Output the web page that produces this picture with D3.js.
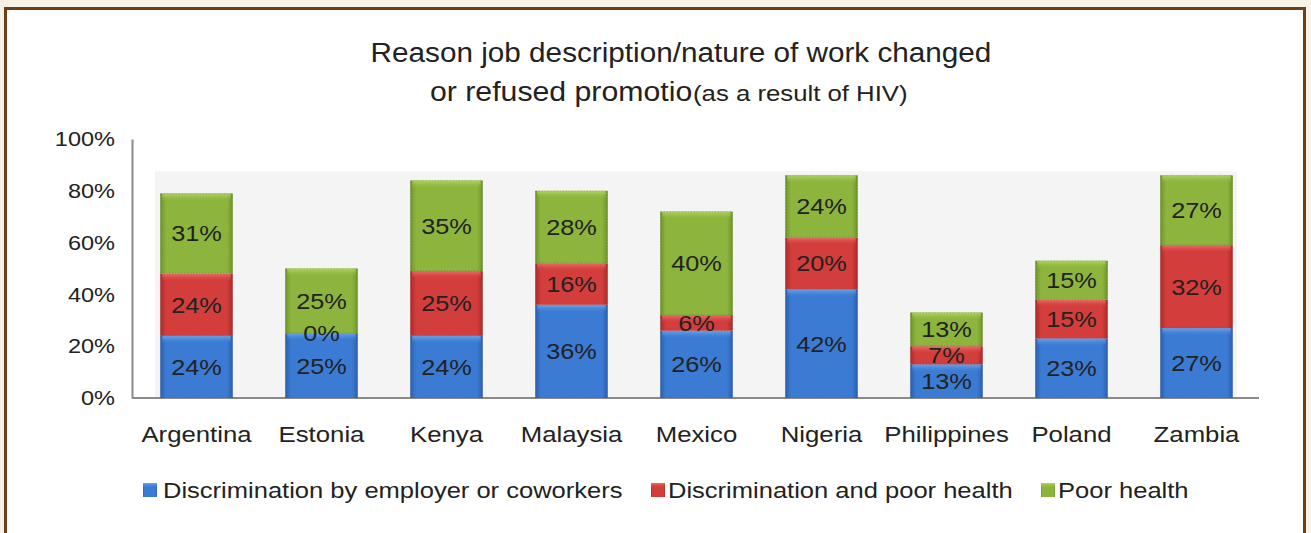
<!DOCTYPE html>
<html><head><meta charset="utf-8">
<script src="https://cdn.jsdelivr.net/npm/d3@7"></script>
<style>
html,body{margin:0;padding:0;background:#f7f2e7;}
svg{display:block;}
text{font-family:"Liberation Sans",Arial,Helvetica,sans-serif;fill:#222;}
</style></head>
<body>
<svg id="c" width="1311" height="533"></svg>
<script>
const categories = ["Argentina","Estonia","Kenya","Malaysia","Mexico","Nigeria","Philippines","Poland","Zambia"];
const seriesNames = ["Discrimination by employer or coworkers","Discrimination and poor health","Poor health"];
const employer = [24,25,24,36,26,42,13,23,27];
const both = [24,0,25,16,6,20,7,15,32];
const poorHealth = [31,25,35,28,40,24,13,15,27];
const yTicks = [0,20,40,60,80,100];
const titleLine1 = "Reason job description/nature of work changed";
const titleLine2a = "or refused promotio";
const titleLine2b = "(as a result of HIV)";

const svg = d3.select("#c");
const W = 1311, H = 533;
const FONT = "'Liberation Sans',Arial,Helvetica,sans-serif";

// horizontally widen text to mimic the reference's wide lettering
function stretch(sel, f) {
  sel.each(function(){
    const L = this.getComputedTextLength();
    d3.select(this).attr("textLength", L*f).attr("lengthAdjust","spacingAndGlyphs");
  });
}

// frame
svg.append("rect").attr("x",0).attr("y",0).attr("width",W).attr("height",H).attr("fill","#f7f2e7");
svg.append("rect").attr("x",5.5).attr("y",8.5).attr("width",1299).attr("height",540)
  .attr("fill","#fff").attr("stroke","#6b3f17").attr("stroke-width",3);

const defs = svg.append("defs");
const palette = [
  {base:"#3c7bd3", light:"#6eaaf0", dark:"#2a5fae"},
  {base:"#d33d3b", light:"#ee736d", dark:"#aa2a28"},
  {base:"#8db53d", light:"#b6da6a", dark:"#6d9428"}
];
palette.forEach((p,i)=>{
  const g = defs.append("linearGradient").attr("id","h"+i).attr("x1","0").attr("x2","1").attr("y1","0").attr("y2","0");
  g.append("stop").attr("offset","0").attr("stop-color",p.dark);
  g.append("stop").attr("offset","0.08").attr("stop-color",p.base);
  g.append("stop").attr("offset","0.92").attr("stop-color",p.base);
  g.append("stop").attr("offset","1").attr("stop-color",p.dark);
  const v = defs.append("linearGradient").attr("id","v"+i).attr("x1","0").attr("x2","0").attr("y1","0").attr("y2","1");
  v.append("stop").attr("offset","0").attr("stop-color",p.light).attr("stop-opacity",0.95);
  v.append("stop").attr("offset","1").attr("stop-color",p.base).attr("stop-opacity",0);
});

const x = d3.scaleBand().domain(categories).range([134,1259]).paddingInner(0.42).paddingOuter(0.21);
const y = d3.scaleLinear().domain([0,100]).range([398,139]);

// wall
svg.append("rect").attr("x",155).attr("y",y(87.5)).attr("width",1237-155).attr("height",y(0)-y(87.5)).attr("fill","#f4f4f4");

// axes
const yAxis = svg.append("g").attr("transform","translate(132,0)")
  .call(d3.axisLeft(y).tickValues(yTicks).tickFormat(d=>d+"%").tickSize(0).tickPadding(17));
yAxis.select(".domain").attr("stroke","#8a8a8a").attr("stroke-width",2);
yAxis.selectAll("text").attr("font-size",21).attr("fill","#222").style("font-family",FONT);
stretch(yAxis.selectAll("text"), 1.12);

const xAxis = svg.append("g").attr("transform","translate(0,398)")
  .call(d3.axisBottom(x).tickSize(0).tickPadding(28).tickSizeOuter(0));
xAxis.select(".domain").attr("stroke","#8a8a8a").attr("stroke-width",2).attr("d","M132,0H1259");
xAxis.selectAll("text").attr("font-size",22).attr("fill","#222").style("font-family",FONT);
stretch(xAxis.selectAll("text"), 1.17);

// stacked data
const rows = categories.map((c,i)=>({cat:c, s0:employer[i], s1:both[i], s2:poorHealth[i]}));
const stack = d3.stack().keys(["s0","s1","s2"])(rows);

stack.forEach((layer,li)=>{
  const g = svg.append("g");
  layer.forEach(d=>{
    const cx = x(d.data.cat), bw = x.bandwidth();
    const y0 = y(d[0]), y1 = y(d[1]);
    const h = y0 - y1;
    if (h > 0) {
      g.append("rect").attr("x",cx).attr("y",y1).attr("width",bw).attr("height",h).attr("fill","url(#h"+li+")");
      g.append("rect").attr("x",cx+2).attr("y",y1).attr("width",bw-4).attr("height",Math.min(8,h)).attr("fill","url(#v"+li+")");
      g.append("rect").attr("x",cx+0.5).attr("y",y1+0.5).attr("width",bw-1).attr("height",h-1)
        .attr("fill","none").attr("stroke","#555").attr("stroke-opacity",0.35).attr("stroke-dasharray","1,2");
    }
  });
});
// labels
const lab = svg.append("g");
stack.forEach((layer,li)=>{
  layer.forEach(d=>{
    const v = d[1]-d[0];
    lab.append("text").attr("x",x(d.data.cat)+x.bandwidth()/2).attr("y",(y(d[0])+y(d[1]))/2)
      .attr("text-anchor","middle").attr("dy","0.36em").attr("font-size",22).text(v+"%");
  });
});
stretch(lab.selectAll("text"), 1.15);

// title
const t1 = svg.append("text").attr("x",681).attr("y",62).attr("text-anchor","middle").attr("font-size",27).text(titleLine1);
stretch(t1, 1.1);
const t2a = svg.append("text").attr("x",430).attr("y",101).attr("font-size",27).text(titleLine2a);
stretch(t2a, 1.12);
const t2b = svg.append("text").attr("x",693).attr("y",101).attr("font-size",22).text(titleLine2b);
stretch(t2b, 1.17);

// legend
const legendPos = [[143,163],[651,668],[1041,1058]];
const leg = svg.append("g");
seriesNames.forEach((n,i)=>{
  const [sx,tx] = legendPos[i];
  leg.append("rect").attr("x",sx).attr("y",483).attr("width",14).attr("height",14).attr("fill","url(#h"+i+")");
  leg.append("rect").attr("x",sx).attr("y",483).attr("width",14).attr("height",5).attr("fill","url(#v"+i+")");
  leg.append("text").attr("x",tx).attr("y",490).attr("dy","0.36em").attr("font-size",22).text(n);
});
stretch(leg.selectAll("text"), 1.16);
</script>
</body></html>
